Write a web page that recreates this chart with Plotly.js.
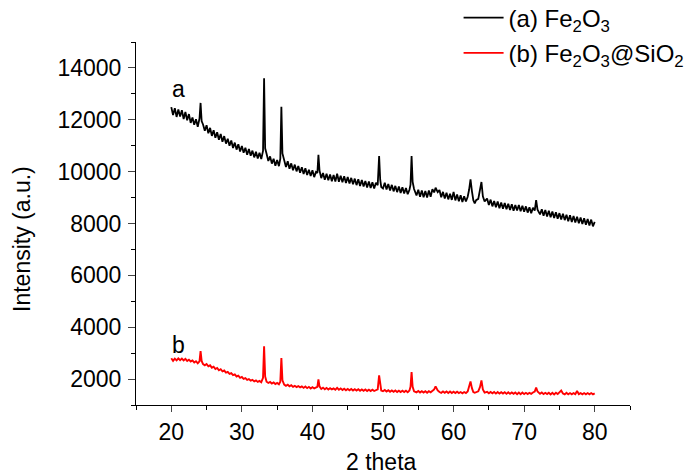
<!DOCTYPE html>
<html>
<head>
<meta charset="utf-8">
<script src="https://cdn.plot.ly/plotly-3.0.1.min.js"></script>
<style>html,body{margin:0;padding:0;background:#fff;}#chart{width:686px;height:474px;}</style>
</head>
<body>
<div id="chart"></div>
<script>
// 2 theta positions (degrees) shared by both patterns
var theta = [
  20,20.25,20.5,20.75, 21,21.25,21.5,21.75, 22,22.25,22.5,22.75, 23,23.25,23.5,23.75,
  24,24.15,24.3,24.5,24.75, 25,25.25,25.5,25.75, 26,26.25,26.5,26.75, 27,27.25,27.5,27.75,
  28,28.25,28.5,28.75, 29,29.25,29.5,29.75, 30,30.25,30.5,30.75, 31,31.25,31.5,31.75,
  32,32.25,32.5,32.75, 33,33.15,33.3,33.5,33.75, 34,34.25,34.5,34.75, 35,35.25,35.45,35.6,35.75,
  36,36.25,36.5,36.75, 37,37.25,37.5,37.75, 38,38.25,38.5,38.75, 39,39.25,39.5,39.75,
  40,40.25,40.5,40.7,40.85, 41,41.25,41.5,41.75, 42,42.25,42.5,42.75, 43,43.25,43.5,43.75,
  44,44.25,44.5,44.75, 45,45.25,45.5,45.75, 46,46.25,46.5,46.75, 47,47.25,47.5,47.75,
  48,48.25,48.5,48.75, 49,49.25,49.45,49.6,49.75, 50,50.25,50.5,50.75, 51,51.25,51.5,51.75,
  52,52.25,52.5,52.75, 53,53.25,53.5,53.75,53.9, 54.05,54.2,54.4,54.75, 55,55.25,55.5,55.75,
  56,56.25,56.5,56.75, 57,57.25,57.45,57.75, 58,58.25,58.5,58.75, 59,59.25,59.5,59.75,
  60,60.25,60.5,60.75, 61,61.25,61.5,61.75, 62,62.2,62.4,62.6,62.8, 63,63.2,63.5,63.75,63.95,
  64.15,64.4,64.75, 65,65.25,65.5,65.75, 66,66.25,66.5,66.75, 67,67.25,67.5,67.75,
  68,68.25,68.5,68.75, 69,69.25,69.5,69.75, 70,70.25,70.5,70.75, 71,71.25,71.5,71.7,71.9,
  72.25,72.5,72.75, 73,73.25,73.5,73.75, 74,74.25,74.5,74.75, 75,75.25,75.5,75.75,
  76,76.25,76.5,76.75, 77,77.25,77.5,77.75, 78,78.25,78.5,78.75, 79,79.25,79.5,79.75, 80
];

// (a) Fe2O3 intensity (upper/lower edges of the noisy trace)
var intensityA = [
  12490,12180,12450,12110, 12400,12130,12370,12030, 12300,11980,12220,11880, 12090,11810,12020,11730,
  12050,12650,11950,11820,11580, 11790,11480,11690,11380, 11600,11310,11520,11230, 11450,11150,11370,11080,
  11270,11000,11200,10910, 11120,10850,11060,10780, 10990,10730,10920,10650, 10870,10610,10810,10550,
  10770,10510,10730,10490, 10800,13600,10900,10690,10410, 10590,10310,10500,10230, 10450,10210,10500,12500,10700,
  10450,10180,10400,10110, 10320,10050,10270,10010, 10220,9960,10170,9910, 10130,9870,10070,9830,
  10050,9790,9990,9950,10650, 10050,9750,9950,9690, 9920,9670,9890,9630, 9870,9620,9920,9610,
  9840,9590,9820,9560, 9790,9540,9760,9510, 9730,9480,9710,9450, 9680,9430,9640,9390,
  9620,9370,9590,9350, 9570,9480,10600,9700,9410, 9350,9570,9310,9520, 9270,9490,9240,9450,
  9210,9430,9180,9400, 9160,9370,9130,9300,9500, 10600,9600,9330,9080, 9300,9030,9270,9010,
  9250,9000,9270,9030, 9320,9200,9380,9210, 9290,9010,9220,8960, 9190,8930,9150,8910,
  9220,8890,9120,8860, 9090,8830,9050,8850, 9030,9300,9700,9250,8900, 8780,8900,8950,9250,9600,
  9050,8850,8960, 8710,8920,8660,8870, 8630,8850,8590,8810, 8570,8790,8550,8760,
  8520,8740,8490,8710, 8500,8710,8470,8680, 8450,8660,8420,8630, 8400,8610,8500,8900,8530,
  8350,8550,8300, 8520,8270,8490,8240, 8460,8210,8430,8180, 8400,8150,8380,8130,
  8340,8090,8320,8060, 8290,8040,8260,8010, 8230,7980,8200,7950, 8170,7920,8150,7890, 8060
];

// (b) Fe2O3@SiO2 intensity
var intensityB = [
  2800,2700,2790,2720, 2800,2730,2790,2720, 2780,2700,2750,2680, 2720,2640,2690,2610,
  2680,3080,2700,2580,2530, 2580,2490,2530,2440, 2480,2390,2430,2340, 2380,2300,2330,2250,
  2280,2200,2230,2150, 2180,2100,2130,2050, 2080,2010,2040,1970, 2000,1940,1970,1910,
  1950,1890,1930,1880, 2050,3260,2100,1900,1850, 1890,1830,1870,1810, 1850,1800,1900,2810,1950,
  1790,1740,1780,1720, 1760,1700,1740,1690, 1730,1680,1720,1660, 1710,1650,1700,1640,
  1690,1640,1680,1700,1990, 1720,1620,1670,1610, 1660,1600,1650,1600, 1640,1590,1660,1590,
  1640,1580,1630,1570, 1620,1570,1620,1560, 1610,1560,1610,1550, 1600,1550,1600,1540,
  1590,1540,1590,1540, 1580,1600,2140,1750,1560, 1530,1580,1520,1570, 1510,1560,1510,1560,
  1500,1550,1500,1550, 1500,1550,1490,1560,1700, 2270,1700,1530,1490, 1540,1480,1530,1480,
  1530,1470,1530,1490, 1540,1600,1720,1560, 1500,1470,1520,1470, 1520,1460,1520,1460,
  1510,1460,1510,1460, 1500,1450,1500,1460, 1520,1700,1910,1650,1500, 1470,1490,1530,1700,1950,
  1600,1480,1510, 1450,1500,1450,1500, 1440,1500,1440,1490, 1440,1490,1430,1490,
  1430,1480,1430,1480, 1420,1480,1420,1480, 1420,1470,1420,1470, 1430,1480,1520,1670,1520,
  1430,1480,1420, 1470,1420,1470,1410, 1470,1410,1470,1420, 1490,1560,1440,1410,
  1470,1410,1460,1410, 1460,1420,1540,1420, 1460,1410,1460,1410, 1460,1410,1460,1410, 1450
];

var seriesNames = ['(a) Fe<sub>2</sub>O<sub>3</sub>', '(b) Fe<sub>2</sub>O<sub>3</sub>@SiO<sub>2</sub>'];
var curveLabels = ['a', 'b'];
var labelPos = [[21, 13200], [21, 3300]];
var xTicks = [20, 30, 40, 50, 60, 70, 80];
var xTickText = ['20', '30', '40', '50', '60', '70', '80'];
var yTicks = [2000, 4000, 6000, 8000, 10000, 12000, 14000];
var yTickText = ['2000', '4000', '6000', '8000', '10000', '12000', '14000'];
var xTitle = '2 theta';
var yTitle = 'Intensity (a.u.)';

var FONT = 'Liberation Sans, Arial, sans-serif';
var FS = 23;

var traces = [
  {x: theta, y: intensityA, mode: 'lines', name: seriesNames[0], legendgroup: 'a',
   line: {color: '#000000', width: 1.8}},
  {x: theta, y: intensityB, mode: 'lines', name: seriesNames[1], legendgroup: 'b',
   line: {color: '#ff0000', width: 1.9}}
];

var layout = {
  width: 686, height: 474,
  margin: {l: 136, r: 56, t: 42, b: 69, autoexpand: false},
  paper_bgcolor: '#ffffff', plot_bgcolor: '#ffffff',
  font: {family: FONT, size: FS, color: '#000000'},
  showlegend: true,
  legend: {x: 0.653, xanchor: 'left', y: 1.128, yanchor: 'top', itemwidth: 40,
           bgcolor: 'rgba(0,0,0,0)', borderwidth: 0, tracegroupgap: 1,
           font: {family: FONT, size: 24, color: '#000'}},
  xaxis: {range: [15, 85], tickvals: xTicks, ticktext: xTickText, ticks: 'outside', ticklen: 6, tickwidth: 1,
          showline: true, linecolor: '#000', linewidth: 1, showgrid: false, zeroline: false,
          tickfont: {family: FONT, size: FS}, automargin: false,
          minor: {dtick: 5, tick0: 15, ticks: 'outside', ticklen: 4, tickcolor: '#000', showgrid: false},
          title: {text: ''}},
  yaxis: {range: [1000, 15000], tickvals: yTicks, ticktext: yTickText, ticks: 'outside', ticklen: 7, tickwidth: 1,
          showline: true, linecolor: '#000', linewidth: 1, showgrid: false, zeroline: false,
          tickfont: {family: FONT, size: FS}, ticklabelstandoff: 2, automargin: false,
          minor: {dtick: 1000, tick0: 1000, ticks: 'outside', ticklen: 4, tickcolor: '#000', showgrid: false},
          title: {text: ''}},
  annotations: [
    {x: labelPos[0][0], y: labelPos[0][1], xref: 'x', yref: 'y', text: curveLabels[0], showarrow: false,
     font: {family: FONT, size: FS}, xanchor: 'center', yanchor: 'middle'},
    {x: labelPos[1][0], y: labelPos[1][1], xref: 'x', yref: 'y', text: curveLabels[1], showarrow: false,
     font: {family: FONT, size: FS}, xanchor: 'center', yanchor: 'middle'},
    {x: -0.2308, y: 0.4573, xref: 'paper', yref: 'paper', text: yTitle, textangle: -90,
     showarrow: false, font: {family: FONT, size: FS}, xanchor: 'center', yanchor: 'middle'},
    {x: 0.4975, y: -0.157, xref: 'paper', yref: 'paper', text: xTitle,
     showarrow: false, font: {family: FONT, size: FS}, xanchor: 'center', yanchor: 'middle'}
  ]
};

Plotly.newPlot('chart', traces, layout, {displayModeBar: false, staticPlot: true});
</script>
</body>
</html>
